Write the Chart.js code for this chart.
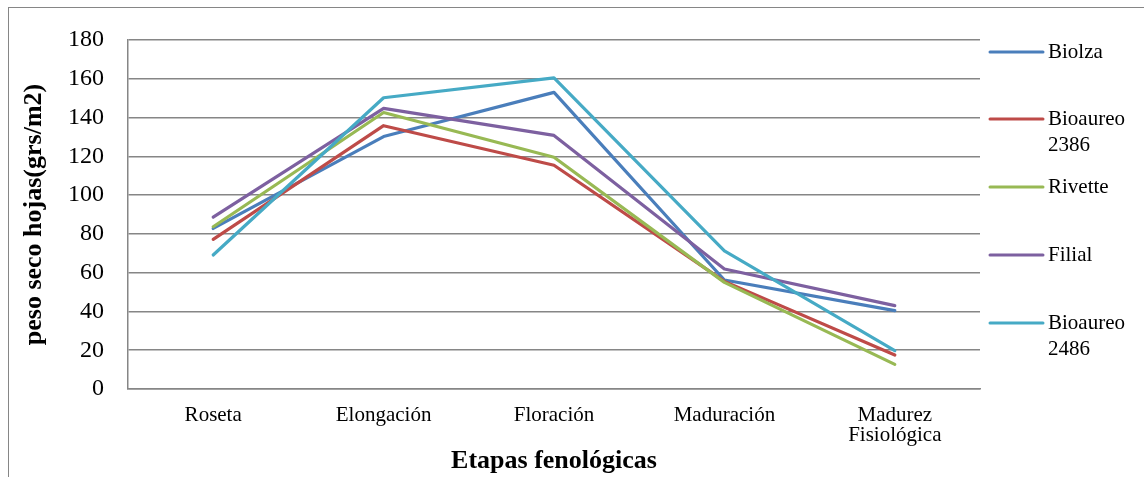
<!DOCTYPE html>
<html>
<head>
<meta charset="utf-8">
<script src="https://cdn.jsdelivr.net/npm/chart.js@4.4.1/dist/chart.umd.min.js"></script>
<style>
  html, body { margin: 0; padding: 0; background: #ffffff; }
  #wrap { position: relative; width: 1144px; height: 477px; }
</style>
</head>
<body>
<div id="wrap"><canvas id="c" width="1144" height="477"></canvas></div>
<script>
// ---- data ----
const categories = ['Roseta', 'Elongación', 'Floración', 'Maduración', ['Madurez', 'Fisiológica']];
const seriesNames = [['Biolza'], ['Bioaureo', '2386'], ['Rivette'], ['Filial'], ['Bioaureo', '2486']];
const biolza = [82.8, 130.2, 153.0, 56.2, 40.4];
const bioaureo2386 = [77.2, 135.8, 115.4, 55.5, 17.5];
const rivette = [83.7, 142.6, 119.5, 55.0, 12.7];
const filial = [88.6, 144.7, 130.8, 61.9, 43.0];
const bioaureo2486 = [69.1, 150.2, 160.5, 71.2, 19.8];
const seriesColors = ['#4A7EBB', '#BE4B48', '#98B954', '#7D60A0', '#46AAC5'];
const yTicks = [0, 20, 40, 60, 80, 100, 120, 140, 160, 180];
const xTitle = 'Etapas fenológicas';
const yTitle = 'peso seco hojas(grs/m2)';

const seriesValues = [biolza, bioaureo2386, rivette, filial, bioaureo2486];
const FONT = "'Liberation Serif', 'Times New Roman', serif";
const GRID = '#868686';

const datasets = seriesValues.map((vals, i) => ({
  label: seriesNames[i].join(' '),
  data: vals,
  borderColor: seriesColors[i],
  backgroundColor: seriesColors[i],
  borderWidth: 3.2,
  pointRadius: 0,
  pointHoverRadius: 0,
  tension: 0,
  fill: false,
  borderJoinStyle: 'round',
  borderCapStyle: 'round',
  order: seriesValues.length - i
}));

const frameAndLegend = {
  id: 'frameAndLegend',
  afterDraw(chart) {
    const ctx = chart.ctx;
    const ca = chart.chartArea;
    ctx.save();
    // outer chart frame
    ctx.strokeStyle = GRID;
    ctx.lineWidth = 1;
    ctx.strokeRect(8.5, 7.5, 1400, 600);
    // legend
    const lx0 = ca.right + 10, lx1 = ca.right + 63, tx = ca.right + 68;
    const rowY = [52, 119, 187, 255, 323];
    ctx.font = '21px ' + FONT;
    ctx.textBaseline = 'middle';
    ctx.textAlign = 'left';
    seriesNames.forEach((lines, i) => {
      const y = rowY[i];
      ctx.strokeStyle = seriesColors[i];
      ctx.lineWidth = 3;
      ctx.lineCap = 'round';
      ctx.beginPath();
      ctx.moveTo(lx0, y);
      ctx.lineTo(lx1, y);
      ctx.stroke();
      ctx.fillStyle = '#000000';
      lines.forEach((t, k) => ctx.fillText(t, tx, y + k * 26));
    });
    ctx.restore();
  }
};

new Chart(document.getElementById('c'), {
  type: 'line',
  data: { labels: categories, datasets },
  options: {
    responsive: false,
    animation: false,
    devicePixelRatio: 1,
    layout: { padding: { left: 0, right: 164, top: 40, bottom: 0 } },
    plugins: { legend: { display: false }, tooltip: { enabled: false }, title: { display: false } },
    scales: {
      x: {
        type: 'category',
        offset: true,
        grid: { display: false, drawTicks: false },
        border: { display: true, color: GRID, width: 1.5 },
        ticks: {
          color: '#000000',
          padding: 17,
          maxRotation: 0,
          autoSkip: false,
          font: { family: FONT, size: 21, lineHeight: 0.93 }
        },
        title: {
          display: true,
          text: xTitle,
          color: '#000000',
          padding: { top: 0, bottom: 0 },
          font: { family: FONT, size: 26, weight: 'bold' }
        },
        afterFit(scale) { scale.height = 88; }
      },
      y: {
        min: 0,
        max: 180,
        afterBuildTicks(scale) { scale.ticks = yTicks.map(v => ({ value: v })); },
        grid: { display: true, color: GRID, lineWidth: 1.5, drawTicks: false },
        border: { display: true, color: GRID, width: 1.5 },
        ticks: {
          color: '#000000',
          padding: 24,
          font: { family: FONT, size: 24 }
        },
        title: {
          display: true,
          text: yTitle,
          color: '#000000',
          padding: { top: 19, bottom: 0 },
          font: { family: FONT, size: 26, weight: 'bold' }
        },
        afterFit(scale) { scale.width = 128; }
      }
    }
  },
  plugins: [frameAndLegend]
});
</script>
</body>
</html>
